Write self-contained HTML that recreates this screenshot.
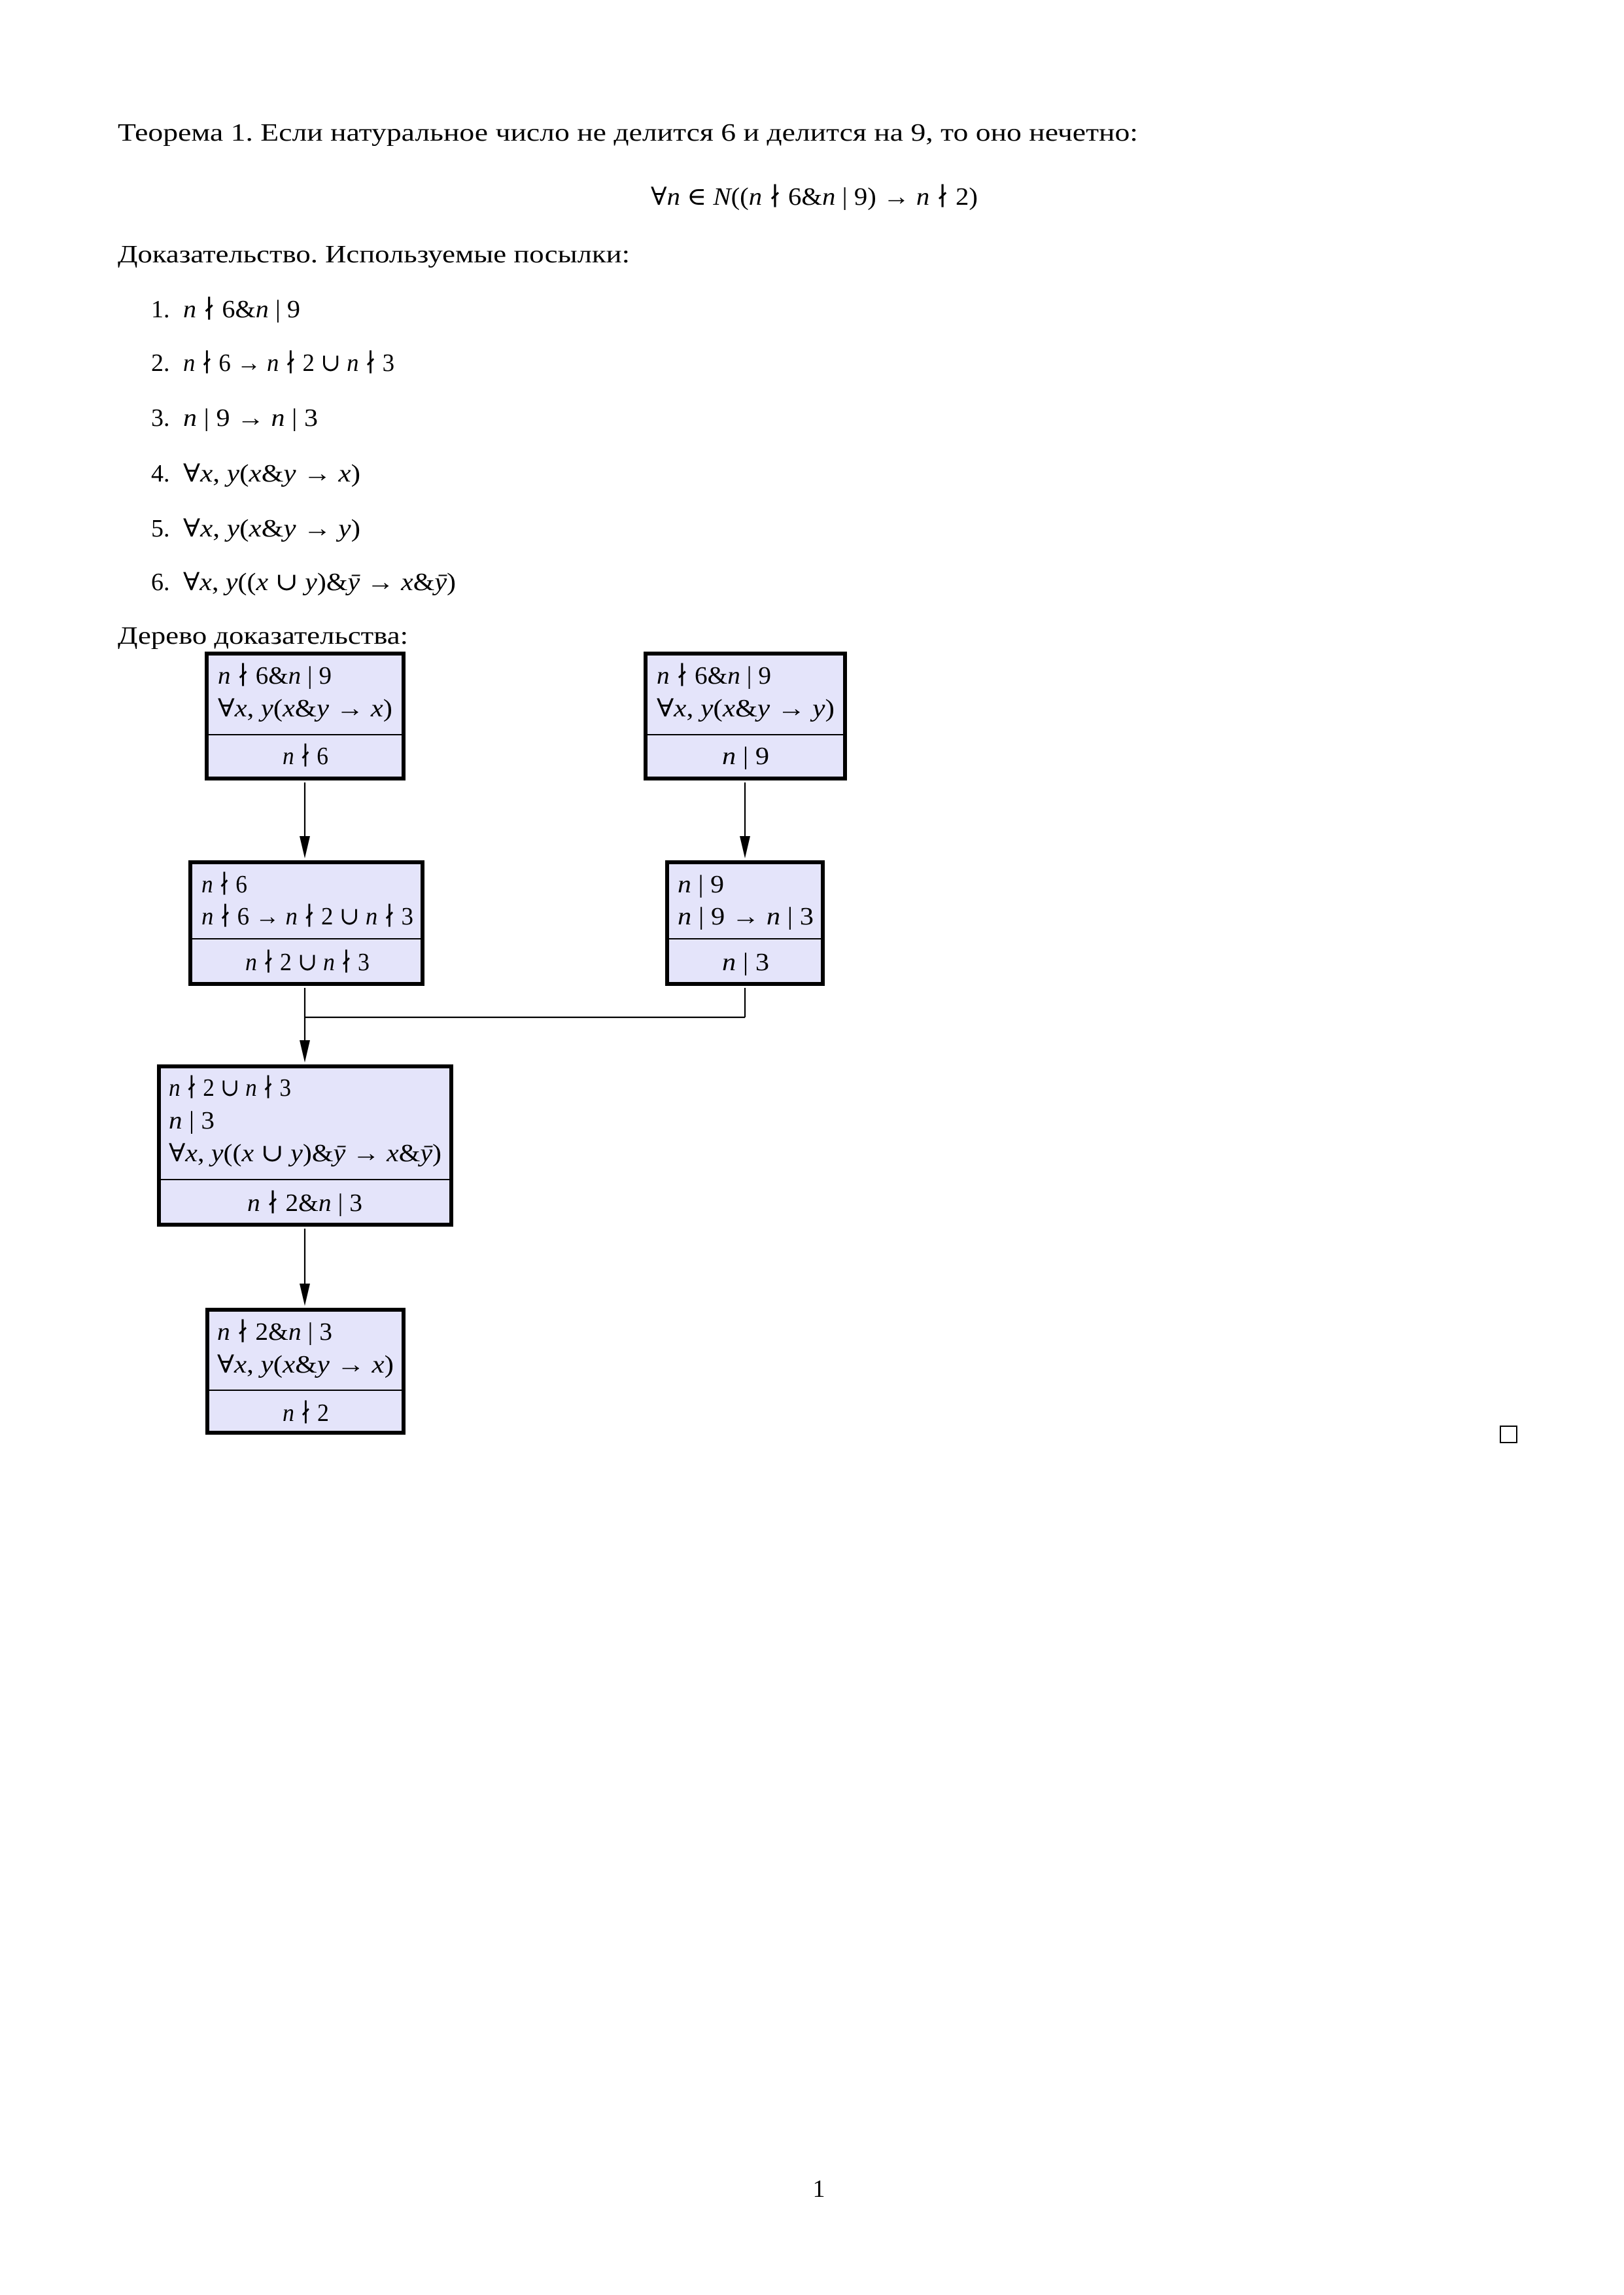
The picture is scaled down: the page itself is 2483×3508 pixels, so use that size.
<!DOCTYPE html>
<html><head><meta charset="utf-8"><style>
html,body{margin:0;padding:0;background:#fff}
svg{display:block}
text{font-family:"Liberation Serif","DejaVu Serif",serif;fill:#000}
.m{font-size:38px}
.t{font-size:38px}
</style></head><body>
<svg width="2483" height="3508" viewBox="0 0 2483 3508" xmlns="http://www.w3.org/2000/svg">
<defs><marker id="ar" markerWidth="16" markerHeight="34" refX="8" refY="34" orient="auto-start-reverse" markerUnits="userSpaceOnUse"><path d="M0,0 L16,0 L8,34 Z" fill="#000" transform="rotate(0)"/></marker></defs>

<text class="t" x="180" y="215" textLength="1560" lengthAdjust="spacingAndGlyphs">Теорема 1. Если натуральное число не делится 6 и делится на 9, то оно нечетно:</text>
<text class="m" x="995" y="313" textLength="500" lengthAdjust="spacingAndGlyphs">∀<tspan font-style="italic">n</tspan> ∈ <tspan font-style="italic">N</tspan>((<tspan font-style="italic">n</tspan> ∤ 6&amp;<tspan font-style="italic">n</tspan> | 9) → <tspan font-style="italic">n</tspan> ∤ 2)</text>
<text class="t" x="180" y="401" textLength="783" lengthAdjust="spacingAndGlyphs">Доказательство. Используемые посылки:</text>

<text class="t" x="231" y="485">1.</text>
<text class="m" x="280" y="485" textLength="179" lengthAdjust="spacingAndGlyphs"><tspan font-style="italic">n</tspan> ∤ 6&amp;<tspan font-style="italic">n</tspan> | 9</text>
<text class="t" x="231" y="567">2.</text>
<text class="m" x="280" y="567" textLength="323" lengthAdjust="spacingAndGlyphs"><tspan font-style="italic">n</tspan> ∤ 6 → <tspan font-style="italic">n</tspan> ∤ 2 ∪ <tspan font-style="italic">n</tspan> ∤ 3</text>
<text class="t" x="231" y="651">3.</text>
<text class="m" x="280" y="651" textLength="206" lengthAdjust="spacingAndGlyphs"><tspan font-style="italic">n</tspan> | 9 → <tspan font-style="italic">n</tspan> | 3</text>
<text class="t" x="231" y="736">4.</text>
<text class="m" x="280" y="736" textLength="271" lengthAdjust="spacingAndGlyphs">∀<tspan font-style="italic">x</tspan>, <tspan font-style="italic">y</tspan>(<tspan font-style="italic">x</tspan>&amp;<tspan font-style="italic">y</tspan> → <tspan font-style="italic">x</tspan>)</text>
<text class="t" x="231" y="820">5.</text>
<text class="m" x="280" y="820" textLength="271" lengthAdjust="spacingAndGlyphs">∀<tspan font-style="italic">x</tspan>, <tspan font-style="italic">y</tspan>(<tspan font-style="italic">x</tspan>&amp;<tspan font-style="italic">y</tspan> → <tspan font-style="italic">y</tspan>)</text>
<text class="t" x="231" y="902">6.</text>
<text class="m" x="280" y="902" textLength="417" lengthAdjust="spacingAndGlyphs">∀<tspan font-style="italic">x</tspan>, <tspan font-style="italic">y</tspan>((<tspan font-style="italic">x</tspan> ∪ <tspan font-style="italic">y</tspan>)&amp;<tspan font-style="italic">ȳ</tspan> → <tspan font-style="italic">x</tspan>&amp;<tspan font-style="italic">ȳ</tspan>)</text>
<text class="t" x="180" y="984" textLength="444" lengthAdjust="spacingAndGlyphs">Дерево доказательства:</text>

<!-- connectors -->
<g stroke="#000" stroke-width="2.2" fill="none">
<line x1="466" y1="1196" x2="466" y2="1278"/>
<line x1="1139" y1="1196" x2="1139" y2="1278"/>
<line x1="466" y1="1510" x2="466" y2="1590"/>
<line x1="466" y1="1555" x2="1139" y2="1555"/>
<line x1="1139" y1="1510" x2="1139" y2="1555"/>
<line x1="466" y1="1878" x2="466" y2="1962"/>
</g>
<g fill="#000">
<path d="M458,1278 L474,1278 L466,1312 Z"/>
<path d="M1131,1278 L1147,1278 L1139,1312 Z"/>
<path d="M458,1590 L474,1590 L466,1624 Z"/>
<path d="M458,1962 L474,1962 L466,1996 Z"/>
</g>

<!-- boxes -->
<g fill="#e4e4fa" stroke="#000" stroke-width="6">
<rect x="316" y="999" width="301" height="191"/>
<rect x="987" y="999" width="305" height="191"/>
<rect x="291" y="1318" width="355" height="186"/>
<rect x="1020" y="1318" width="238" height="186"/>
<rect x="243" y="1630" width="447" height="242"/>
<rect x="317" y="2002" width="300" height="188"/>
</g>
<g stroke="#000" stroke-width="2">
<line x1="319" y1="1123" x2="614" y2="1123"/>
<line x1="990" y1="1123" x2="1289" y2="1123"/>
<line x1="294" y1="1435" x2="643" y2="1435"/>
<line x1="1023" y1="1435" x2="1255" y2="1435"/>
<line x1="246" y1="1803" x2="687" y2="1803"/>
<line x1="320" y1="2125" x2="614" y2="2125"/>
</g>

<!-- box1 -->
<text class="m" x="333" y="1045" textLength="174" lengthAdjust="spacingAndGlyphs"><tspan font-style="italic">n</tspan> ∤ 6&amp;<tspan font-style="italic">n</tspan> | 9</text>
<text class="m" x="333" y="1095" textLength="267" lengthAdjust="spacingAndGlyphs">∀<tspan font-style="italic">x</tspan>, <tspan font-style="italic">y</tspan>(<tspan font-style="italic">x</tspan>&amp;<tspan font-style="italic">y</tspan> → <tspan font-style="italic">x</tspan>)</text>
<text class="m" x="432" y="1168" textLength="70" lengthAdjust="spacingAndGlyphs"><tspan font-style="italic">n</tspan> ∤ 6</text>
<!-- box2 -->
<text class="m" x="1004" y="1045" textLength="175" lengthAdjust="spacingAndGlyphs"><tspan font-style="italic">n</tspan> ∤ 6&amp;<tspan font-style="italic">n</tspan> | 9</text>
<text class="m" x="1004" y="1095" textLength="272" lengthAdjust="spacingAndGlyphs">∀<tspan font-style="italic">x</tspan>, <tspan font-style="italic">y</tspan>(<tspan font-style="italic">x</tspan>&amp;<tspan font-style="italic">y</tspan> → <tspan font-style="italic">y</tspan>)</text>
<text class="m" x="1104" y="1168" textLength="72" lengthAdjust="spacingAndGlyphs"><tspan font-style="italic">n</tspan> | 9</text>
<!-- box3 -->
<text class="m" x="308" y="1364" textLength="70" lengthAdjust="spacingAndGlyphs"><tspan font-style="italic">n</tspan> ∤ 6</text>
<text class="m" x="308" y="1413" textLength="324" lengthAdjust="spacingAndGlyphs"><tspan font-style="italic">n</tspan> ∤ 6 → <tspan font-style="italic">n</tspan> ∤ 2 ∪ <tspan font-style="italic">n</tspan> ∤ 3</text>
<text class="m" x="375" y="1483" textLength="190" lengthAdjust="spacingAndGlyphs"><tspan font-style="italic">n</tspan> ∤ 2 ∪ <tspan font-style="italic">n</tspan> ∤ 3</text>
<!-- box4 -->
<text class="m" x="1036" y="1364" textLength="71" lengthAdjust="spacingAndGlyphs"><tspan font-style="italic">n</tspan> | 9</text>
<text class="m" x="1036" y="1413" textLength="208" lengthAdjust="spacingAndGlyphs"><tspan font-style="italic">n</tspan> | 9 → <tspan font-style="italic">n</tspan> | 3</text>
<text class="m" x="1104" y="1483" textLength="72" lengthAdjust="spacingAndGlyphs"><tspan font-style="italic">n</tspan> | 3</text>
<!-- box5 -->
<text class="m" x="258" y="1675" textLength="187" lengthAdjust="spacingAndGlyphs"><tspan font-style="italic">n</tspan> ∤ 2 ∪ <tspan font-style="italic">n</tspan> ∤ 3</text>
<text class="m" x="258" y="1725" textLength="70" lengthAdjust="spacingAndGlyphs"><tspan font-style="italic">n</tspan> | 3</text>
<text class="m" x="258" y="1775" textLength="417" lengthAdjust="spacingAndGlyphs">∀<tspan font-style="italic">x</tspan>, <tspan font-style="italic">y</tspan>((<tspan font-style="italic">x</tspan> ∪ <tspan font-style="italic">y</tspan>)&amp;<tspan font-style="italic">ȳ</tspan> → <tspan font-style="italic">x</tspan>&amp;<tspan font-style="italic">ȳ</tspan>)</text>
<text class="m" x="378" y="1851" textLength="176" lengthAdjust="spacingAndGlyphs"><tspan font-style="italic">n</tspan> ∤ 2&amp;<tspan font-style="italic">n</tspan> | 3</text>
<!-- box6 -->
<text class="m" x="332" y="2048" textLength="176" lengthAdjust="spacingAndGlyphs"><tspan font-style="italic">n</tspan> ∤ 2&amp;<tspan font-style="italic">n</tspan> | 3</text>
<text class="m" x="332" y="2098" textLength="270" lengthAdjust="spacingAndGlyphs">∀<tspan font-style="italic">x</tspan>, <tspan font-style="italic">y</tspan>(<tspan font-style="italic">x</tspan>&amp;<tspan font-style="italic">y</tspan> → <tspan font-style="italic">x</tspan>)</text>
<text class="m" x="432" y="2172" textLength="71" lengthAdjust="spacingAndGlyphs"><tspan font-style="italic">n</tspan> ∤ 2</text>

<rect x="2294" y="2180" width="25" height="25" fill="none" stroke="#000" stroke-width="2"/>
<text class="t" x="1252" y="3358" text-anchor="middle">1</text>
</svg>
</body></html>
